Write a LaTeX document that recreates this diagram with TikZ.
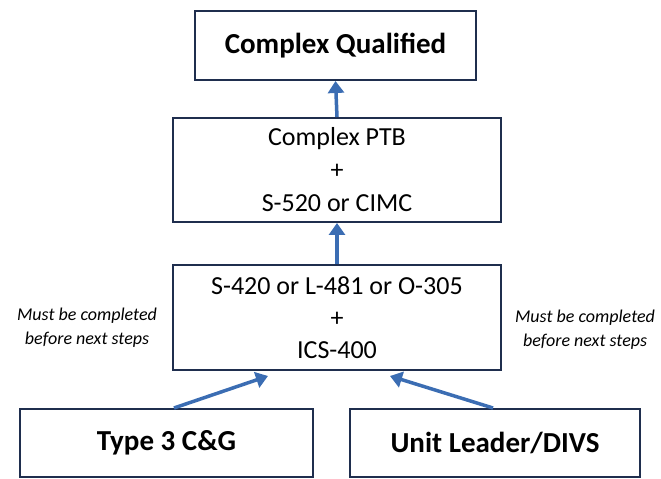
\documentclass[tikz,border=0pt]{standalone}
\usepackage{fontspec}
\setmainfont{Carlito}
\usetikzlibrary{arrows.meta}
\definecolor{boxline}{HTML}{1F2E4E}
\definecolor{arrblue}{HTML}{3B6DB3}
\tikzset{
  box/.style={draw=boxline, line width=2pt, fill=white, align=center, inner sep=0pt},
  arr/.style={draw=arrblue, line width=3.5pt, -{Triangle[length=12pt,width=16pt]}},
  note/.style={align=center, font=\fontsize{18}{24}\selectfont\itshape}
}
\begin{document}
\begin{tikzpicture}[x=1pt,y=1pt]
\useasboundingbox (0,0) rectangle (661,479);
\node[box, minimum width=281pt, minimum height=69pt, font=\fontsize{29}{34}\selectfont\bfseries] (top) at (335.5,433.5) {Complex Qualified};
\node[box, minimum width=328pt, minimum height=104pt, font=\fontsize{26}{33}\selectfont] (mid1) at (337,309) {Complex PTB\\+\\S-520 or CIMC};
\node[box, minimum width=328pt, minimum height=105pt, font=\fontsize{26}{32}\selectfont] (mid2) at (337,161.5) {S-420 or L-481 or O-305\\+\\ICS-400};
\node[box, minimum width=293pt, minimum height=68pt, font=\fontsize{29}{34}\selectfont\bfseries] (lb) at (166.5,36) {Type 3 C\&G};
\node[box, minimum width=290pt, minimum height=68pt, font=\fontsize{29}{34}\selectfont\bfseries] (rb) at (495,36) {Unit Leader/DIVS};
\node[note] (nl) at (87,151) {Must be completed\\before next steps};
\node[note] (nr) at (585,149) {Must be completed\\before next steps};
\draw[arr] (mid1.north) -- (top.south);
\draw[arr] (mid2.north) -- (mid1.south);
\draw[arr] ([xshift=7.5pt]lb.north) -- ([xshift=-69pt,yshift=-5pt]mid2.south);
\draw[arr] ([xshift=-2pt]rb.north) -- ([xshift=53pt,yshift=-5pt]mid2.south);
\end{tikzpicture}
\end{document}
